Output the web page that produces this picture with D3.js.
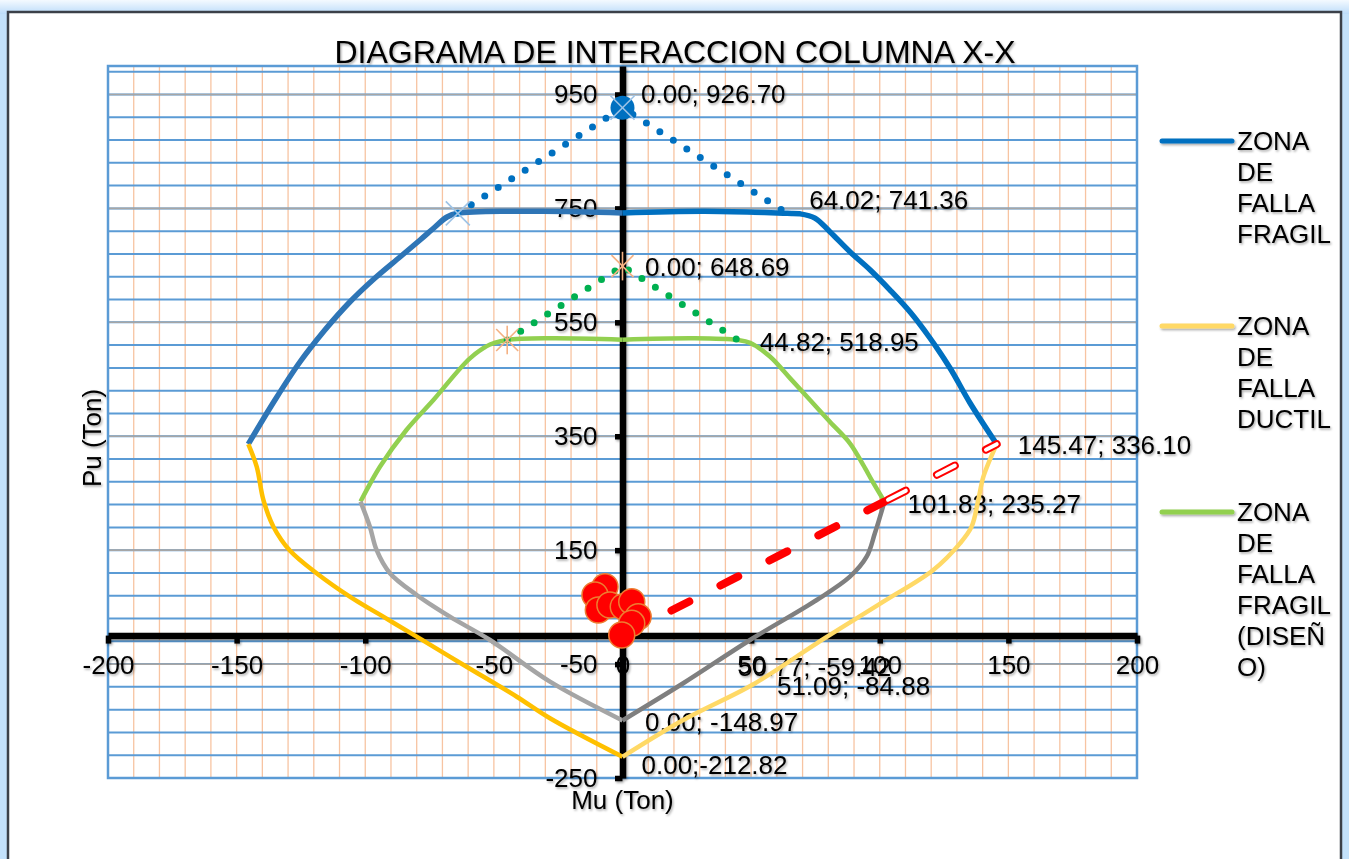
<!DOCTYPE html>
<html>
<head>
<meta charset="utf-8">
<script src="https://cdn.jsdelivr.net/npm/d3@7"></script>
<style>
  html, body { margin: 0; padding: 0; background: #c3e1fb; overflow: hidden; }
  text { font-family: "Liberation Sans", Arial, sans-serif; }
</style>
</head>
<body>
<svg id="chart"></svg>
<script>
// ---- datos del diagrama (Mu, Pu) en Ton ----
const xTicks = [-200, -150, -100, -50, 0, 50, 100, 150, 200];
const yTicks = [-250, -50, 150, 350, 550, 750, 950];

// zona de falla fragil (azul)
const fragilIzq = [[-145.47, 336.10], [-135.1, 413.6], [-125.4, 480.3], [-115.7, 536.5], [-106.0, 585.7], [-96.2, 627.8], [-86.5, 664.7], [-78.7, 694.5], [-72.9, 717.3], [-68.2, 734.9], [-64.02, 741.36], [-32.0, 745.0], [0.00, 742.0]];
const fragilDer = [[0.00, 742.0], [32.0, 745.0], [64.02, 741.36], [69.0, 740.5], [74.8, 733.1], [80.7, 708.6], [88.5, 673.5], [96.3, 641.9], [104.0, 606.7], [111.8, 568.1], [119.5, 522.5], [127.3, 469.8], [135.1, 408.4], [145.47, 336.10]];
const fragilPico = [[-64.02, 741.36], [0.00, 926.70], [64.02, 741.36]];

// zona de falla ductil (amarillo)
const ductilIzq = [[-145.47, 336.10], [-142.2, 296.5], [-139.6, 238.1], [-135.7, 191.2], [-129.3, 149.3], [-118.9, 109.4], [-106.0, 68.3], [-93.0, 33.2], [-80.0, -1.9], [-60.6, -54.6], [-41.1, -107.3], [-28.2, -145.2], [0.00, -212.82]];
const ductilDer = [[0.00, -212.82], [23.6, -148.2], [51.09, -84.88], [75.5, -13.5], [101.4, 59.5], [120.8, 115.2], [131.2, 162.0], [135.7, 191.2], [138.3, 238.1], [140.3, 279.0], [145.47, 336.10]];

// zona de falla fragil (diseño) (verde) y ductil de diseño (gris)
const disenoIzq = [[-101.83, 235.27], [-94.3, 296.5], [-84.0, 361.0], [-73.5, 413.7], [-59.3, 486.8], [-51.5, 511.0], [-44.82, 518.95], [-28.0, 522.0], [0.00, 519.5]];
const disenoDer = [[0.00, 519.5], [28.0, 522.0], [44.82, 518.95], [49.6, 514.0], [57.3, 490.0], [65.1, 452.0], [72.9, 413.7], [80.7, 375.0], [88.4, 337.6], [93.5, 300.0], [97.5, 268.0], [101.83, 235.27]];
const disenoPico = [[-44.82, 518.95], [0.00, 648.69], [44.82, 518.95]];
const disenoDuctilIzq = [[-101.83, 235.27], [-98.2, 191.2], [-95.6, 150.3], [-90.4, 109.4], [-80.0, 71.3], [-67.1, 33.2], [-51.5, -7.7], [-28.2, -80.9], [0.00, -148.97]];
const disenoDuctilDer = [[0.00, -148.97], [23.6, -83.7], [49.6, -7.7], [75.5, 62.5], [88.4, 103.4], [94.9, 138.5], [98.1, 179.6], [101.83, 235.27]];

// linea de excentricidad
const excentricidad = [[0.00, 0.00], [101.83, 235.27]];
const excentricidadExt = [[101.83, 235.27], [145.47, 336.10]];

// combinaciones de carga
const cargasMu = [-6.8, -10.7, -9.4, -4.9, 0.3, 3.6, 6.1, 3.6, -0.3];
const cargasPu = [85.8, 71.3, 45.0, 53.7, 50.7, 59.5, 33.2, 21.6, 1.0];

// etiquetas de datos
const etiquetas = [
  [0.00, 926.70, "0.00; 926.70"],
  [64.02, 741.36, "64.02; 741.36"],
  [0.00, 648.69, "0.00; 648.69"],
  [44.82, 518.95, "44.82; 518.95"],
  [145.47, 336.10, "145.47; 336.10"],
  [101.83, 235.27, "101.83; 235.27"],
  [50.77, -59.42, "50.77; -59.42"],
  [51.09, -84.88, "51.09; -84.88"],
  [0.00, -148.97, "0.00; -148.97"],
  [0.00, -212.82, "0.00;-212.82"]
];

const leyenda = ["ZONA DE FALLA FRAGIL", "ZONA DE FALLA DUCTIL", "ZONA DE FALLA FRAGIL (DISEÑO)"];
const leyendaColores = ["#0070C0", "#FFD966", "#92D050"];

// ---- dibujo ----
const width = 1349, height = 859;
const plot = {left: 108, right: 1137, top: 66, bottom: 778};

var svg = d3.select("#chart").attr("width", width).attr("height", height);

var defs = svg.append("defs");
var grad = defs.append("linearGradient").attr("id", "fondo").attr("x1", 0).attr("x2", 0).attr("y1", 0).attr("y2", 1);
grad.append("stop").attr("offset", "0%").attr("stop-color", "#f4faff");
grad.append("stop").attr("offset", "100%").attr("stop-color", "#bcdcfa");
var sombra = defs.append("filter").attr("id", "sombra").attr("x", "-5%").attr("y", "-20%").attr("width", "120%").attr("height", "160%");
sombra.append("feDropShadow").attr("dx", 1.2).attr("dy", 1.6).attr("stdDeviation", 0.9)
  .attr("flood-color", "#000").attr("flood-opacity", 0.35);

// marco
svg.append("rect").attr("x", 0).attr("y", 0).attr("width", width).attr("height", 14).attr("fill", "url(#fondo)");
svg.append("rect").attr("x", 8).attr("y", 12).attr("width", 1333).attr("height", 870)
  .attr("fill", "#fff").attr("stroke", "#3b4049").attr("stroke-width", 2.5);

var x = d3.scaleLinear().domain([-200, 200]).range([plot.left, plot.right]);
var y = d3.scaleLinear().domain([-250, 1000]).range([plot.bottom, plot.top]);

// rejilla
var grid = svg.append("g");
grid.selectAll(".vgrid").data(d3.range(-200, 201, 10)).join("line").attr("class", "vgrid")
  .attr("x1", d => x(d)).attr("x2", d => x(d)).attr("y1", plot.top).attr("y2", plot.bottom)
  .attr("stroke", "#F7C4A2").attr("stroke-width", 1.3);
grid.selectAll(".hgrid").data(d3.range(-250, 1001, 40)).join("line").attr("class", "hgrid")
  .attr("x1", plot.left).attr("x2", plot.right).attr("y1", d => y(d)).attr("y2", d => y(d))
  .attr("stroke", "#5B9BD5").attr("stroke-width", 2);
grid.selectAll(".hmajor").data(yTicks).join("line").attr("class", "hmajor")
  .attr("x1", plot.left).attr("x2", plot.right).attr("y1", d => y(d)).attr("y2", d => y(d))
  .attr("stroke", "#A6A6A6").attr("stroke-width", 1.6);
svg.append("rect").attr("x", plot.left).attr("y", plot.top)
  .attr("width", plot.right - plot.left).attr("height", plot.bottom - plot.top)
  .attr("fill", "none").attr("stroke", "#5B9BD5").attr("stroke-width", 2.5);

var textos = svg.append("g").attr("filter", "url(#sombra)");

// ejes
var xAxis = textos.append("g").attr("transform", `translate(0,${y(0)})`)
  .call(d3.axisBottom(x).tickValues(xTicks).tickSize(8).tickSizeOuter(0).tickPadding(12).tickFormat(d => String(d)));
var yAxis = textos.append("g").attr("transform", `translate(${x(0)},0)`)
  .call(d3.axisLeft(y).tickValues(yTicks).tickSize(7.5).tickSizeOuter(0).tickPadding(17.5).tickFormat(d => String(d)));
[xAxis, yAxis].forEach(a => {
  a.attr("font-family", "Liberation Sans, Arial, sans-serif").attr("font-size", 26);
  a.select(".domain").attr("stroke", "#000").attr("stroke-width", 6.5);
  a.selectAll(".tick line").attr("stroke", "#000").attr("stroke-width", 5.5);
  a.selectAll(".tick text").attr("fill", "#000");
});

// series
var line = d3.line().x(d => x(d[0])).y(d => y(d[1])).curve(d3.curveCatmullRom.alpha(0.5));
var recta = d3.line().x(d => x(d[0])).y(d => y(d[1]));
var series = svg.append("g").attr("fill", "none").attr("stroke-linejoin", "round");

var curvas = [
  [fragilIzq, "#2E75B6", 5.5],
  [fragilDer, "#0070C0", 5.5],
  [ductilIzq, "#FFC000", 4.5],
  [ductilDer, "#FFD966", 4.5],
  [disenoIzq, "#92D050", 4.5],
  [disenoDer, "#92D050", 4.5],
  [disenoDuctilIzq, "#A5A5A5", 4.5],
  [disenoDuctilDer, "#7F7F7F", 4.5]
];
series.selectAll(".curva").data(curvas).join("path").attr("class", "curva")
  .attr("d", d => line(d[0])).attr("stroke", d => d[1]).attr("stroke-width", d => d[2]);

// picos punteados
series.append("path").attr("d", recta(fragilPico)).attr("stroke", "#0070C0").attr("stroke-width", 7)
  .attr("stroke-linecap", "round").attr("stroke-dasharray", "0 16");
series.append("path").attr("d", recta(disenoPico)).attr("stroke", "#00B050").attr("stroke-width", 7)
  .attr("stroke-linecap", "round").attr("stroke-dasharray", "0 16");

// excentricidad
series.append("path").attr("d", recta(excentricidad)).attr("stroke", "#FF0000").attr("stroke-width", 8)
  .attr("stroke-linecap", "round").attr("stroke-dasharray", "20 35");
series.append("path").attr("d", recta(excentricidadExt)).attr("stroke", "#FF0000").attr("stroke-width", 8)
  .attr("stroke-linecap", "round").attr("stroke-dasharray", "20 35").attr("stroke-dashoffset", -4);
series.append("path").attr("d", recta(excentricidadExt)).attr("stroke", "#fff").attr("stroke-width", 4)
  .attr("stroke-linecap", "round").attr("stroke-dasharray", "20 35").attr("stroke-dashoffset", -4);

// marcadores
var marcas = svg.append("g").attr("fill", "none");
var cruz = (g, px, py, r, color, vertical) => {
  g.append("line").attr("x1", px - r).attr("y1", py - r).attr("x2", px + r).attr("y2", py + r).attr("stroke", color).attr("stroke-width", 1.6);
  g.append("line").attr("x1", px - r).attr("y1", py + r).attr("x2", px + r).attr("y2", py - r).attr("stroke", color).attr("stroke-width", 1.6);
  if (vertical) g.append("line").attr("x1", px).attr("y1", py - r * 1.3).attr("x2", px).attr("y2", py + r * 1.3).attr("stroke", color).attr("stroke-width", 1.6);
};
cruz(marcas, x(fragilPico[0][0]), y(fragilPico[0][1]), 12, "#9DC3E6", false);
marcas.append("circle").attr("cx", x(fragilPico[1][0])).attr("cy", y(fragilPico[1][1])).attr("r", 12).attr("fill", "#0070C0");
cruz(marcas, x(fragilPico[1][0]), y(fragilPico[1][1]), 12, "#9DC3E6", false);
cruz(marcas, x(disenoPico[0][0]), y(disenoPico[0][1]), 11, "#F4B183", true);
cruz(marcas, x(disenoPico[1][0]), y(disenoPico[1][1]), 11, "#F4B183", true);

marcas.selectAll(".carga").data(cargasMu.map((m, i) => [m, cargasPu[i]])).join("circle").attr("class", "carga")
  .attr("cx", d => x(d[0])).attr("cy", d => y(d[1])).attr("r", 13)
  .attr("fill", "#FF0000").attr("stroke", "#ED7D31").attr("stroke-width", 1.5);

// etiquetas de datos (desplazamiento respecto al punto)
var desplaz = [[18.5, -14], [22, -13], [22.5, 0.5], [22, 1.5], [21, 1], [23, 2], [-15, -3], [23, 2], [22.5, 1], [19, 8]];
textos.selectAll(".etq").data(etiquetas).join("text").attr("class", "etq")
  .attr("x", (d, i) => x(d[0]) + desplaz[i][0]).attr("y", (d, i) => y(d[1]) + desplaz[i][1])
  .attr("dy", "0.35em").attr("font-size", 26).attr("fill", "#000").text(d => d[2]);

// titulos
textos.append("text").attr("x", 675).attr("y", 52).attr("dy", "0.35em").attr("text-anchor", "middle")
  .attr("font-size", 32).attr("fill", "#000").text("DIAGRAMA DE INTERACCION COLUMNA X-X");
textos.append("text").attr("transform", "translate(92,438) rotate(-90)").attr("dy", "0.35em").attr("text-anchor", "middle")
  .attr("font-size", 26).attr("fill", "#000").text("Pu (Ton)");
textos.append("text").attr("x", x(0)).attr("y", 800).attr("dy", "0.35em").attr("text-anchor", "middle")
  .attr("font-size", 26).attr("fill", "#000").text("Mu (Ton)");

// leyenda
var legend_g = textos.append("g").attr("transform", "translate(1162,0)");
var legendY = [141, 326, 512];
var maxAncho = 100;
var partir = (texto) => {
  var medidor = legend_g.append("text").attr("font-size", 26);
  var ancho = s => { medidor.text(s); return medidor.node().getComputedTextLength(); };
  var lineas = [];
  texto.split(" ").forEach(w => {
    var resto = w;
    while (ancho(resto) > maxAncho) {
      var k = resto.length - 1;
      while (k > 1 && ancho(resto.slice(0, k)) > maxAncho) k--;
      lineas.push(resto.slice(0, k));
      resto = resto.slice(k);
    }
    lineas.push(resto);
  });
  medidor.remove();
  return lineas;
};
leyenda.forEach((nombre, i) => {
  legend_g.append("line").attr("x1", 0).attr("x2", 70).attr("y1", legendY[i]).attr("y2", legendY[i])
    .attr("stroke", leyendaColores[i]).attr("stroke-width", 5).attr("stroke-linecap", "round");
  var t = legend_g.append("text").attr("font-size", 26).attr("fill", "#000");
  partir(nombre).forEach((l, j) => {
    t.append("tspan").attr("x", 75).attr("y", legendY[i] + j * 31).attr("dy", "0.35em").text(l);
  });
});
</script>
</body>
</html>
